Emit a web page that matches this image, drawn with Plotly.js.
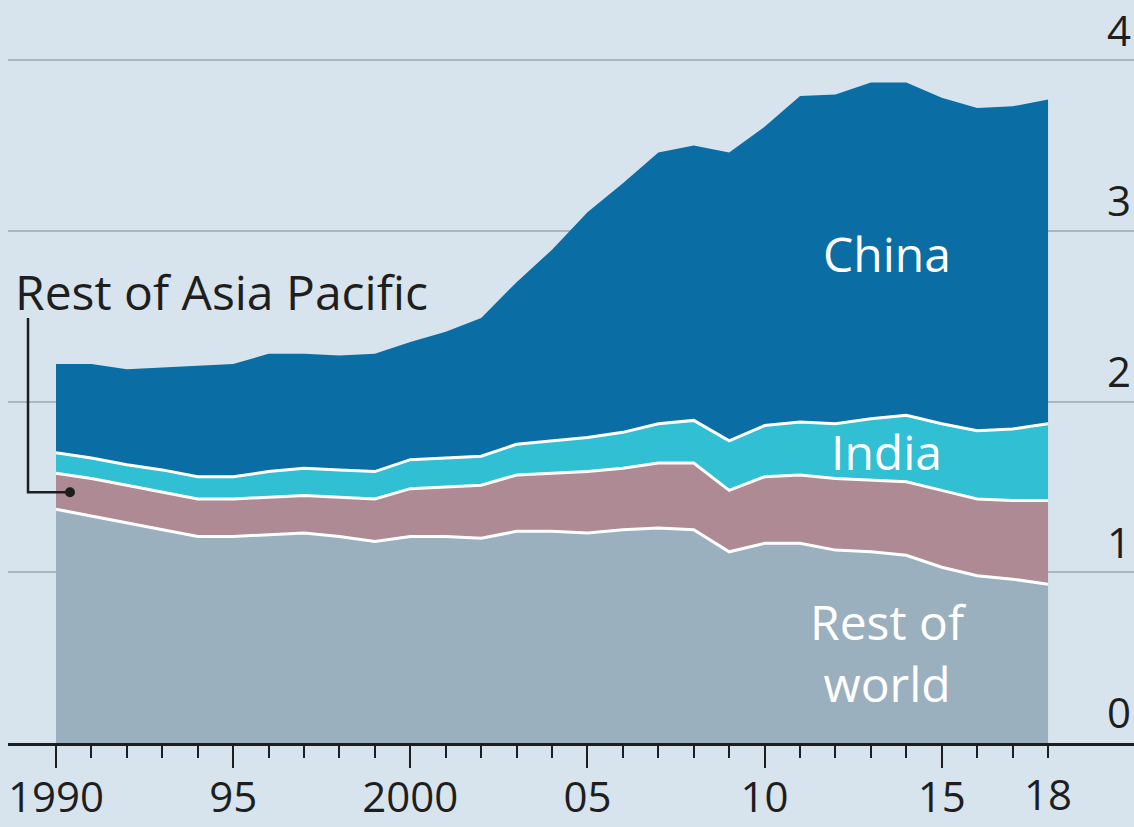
<!DOCTYPE html>
<html>
<head>
<meta charset="utf-8">
<script src="https://cdn.plot.ly/plotly-3.0.1.min.js"></script>
<style>
  html, body { margin: 0; padding: 0; background: #d7e4ed; }
  #chart { width: 1134px; height: 827px; }
</style>
</head>
<body>
<div id="chart"></div>
<script>
// Years
const years = [1990,1991,1992,1993,1994,1995,1996,1997,1998,1999,2000,2001,2002,2003,2004,
               2005,2006,2007,2008,2009,2010,2011,2012,2013,2014,2015,2016,2017,2018];

// Series values (stacked, bottom to top)
const restOfWorld = [1.37,1.33,1.29,1.25,1.21,1.21,1.22,1.23,1.21,1.18,1.21,1.21,1.20,1.24,1.24,
                     1.23,1.25,1.26,1.25,1.12,1.17,1.17,1.13,1.12,1.10,1.03,0.98,0.96,0.93];
const restOfAsiaPacific = [0.21,0.22,0.22,0.22,0.22,0.22,0.22,0.22,0.23,0.25,0.28,0.29,0.31,0.33,0.34,
                           0.36,0.36,0.38,0.39,0.36,0.39,0.40,0.42,0.42,0.43,0.45,0.45,0.46,0.49];
const india = [0.12,0.12,0.12,0.13,0.13,0.13,0.15,0.16,0.16,0.16,0.17,0.17,0.17,0.18,0.19,
               0.20,0.21,0.23,0.25,0.29,0.30,0.31,0.32,0.36,0.39,0.39,0.40,0.42,0.45];
const china = [0.52,0.55,0.56,0.60,0.65,0.66,0.69,0.67,0.67,0.69,0.69,0.74,0.81,0.95,1.12,
               1.32,1.46,1.59,1.61,1.69,1.75,1.91,1.93,1.97,1.95,1.91,1.89,1.89,1.90];

// Tick labels
const majorTickVals = [1990,1995,2000,2005,2010,2015];
const majorTickText = ['1990','95','2000','05','10','15'];
const minorTickVals = [1991,1992,1993,1994,1996,1997,1998,1999,2001,2002,2003,2004,
                       2006,2007,2008,2009,2011,2012,2013,2014,2016,2017,2018];
const endTickVals = [2018];
const endTickText = ['18'];
const yTickVals = [0,1,2,3,4];

const FONT = 'Open Sans, Lato, DejaVu Sans, sans-serif';
const BG = '#d7e4ed';
const INK = '#1e1e1e';

function band(name, values, fillColor, lineColor, lineWidth) {
  return {
    type: 'scatter', mode: 'lines', name: name,
    x: years, y: values, stackgroup: 'one',
    fillcolor: fillColor,
    line: { color: lineColor, width: lineWidth, shape: 'linear' },
    hoverinfo: 'skip'
  };
}

const traces = [
  band('Rest of world', restOfWorld, '#9bb0be', '#ffffff', 3),
  band('Rest of Asia Pacific', restOfAsiaPacific, '#ae8a94', '#ffffff', 3),
  band('India', india, '#30bfd3', '#ffffff', 3),
  band('China', china, '#0a6ea4', '#0a6ea4', 0),
  { type: 'scatter', x: [years[0]], y: [0], xaxis: 'x2', yaxis: 'y',
    mode: 'markers', marker: { opacity: 0 }, showlegend: false, hoverinfo: 'skip' }
];

const xr = [1988.645, 2020.426];
const tickFont = { family: FONT, size: 42, color: INK };

const layout = {
  width: 1134, height: 827,
  margin: { l: 8, r: 0, t: 0, b: 84 },
  paper_bgcolor: BG, plot_bgcolor: BG,
  showlegend: false,
  font: { family: FONT, color: INK },
  xaxis: {
    range: xr, fixedrange: true,
    tickmode: 'array', tickvals: majorTickVals, ticktext: majorTickText,
    ticks: 'outside', ticklen: 22, tickwidth: 2, tickcolor: INK,
    ticklabelstandoff: -6,
    minor: { tickmode: 'array', tickvals: minorTickVals, ticks: 'outside', ticklen: 12,
             tickwidth: 2, tickcolor: INK, showgrid: false },
    tickfont: tickFont,
    showgrid: false, zeroline: false,
    showline: true, linecolor: INK, linewidth: 3
  },
  xaxis2: {
    overlaying: 'x', matches: 'x', anchor: 'y', side: 'bottom',
    tickmode: 'array', tickvals: endTickVals, ticktext: endTickText,
    ticks: 'outside', ticklen: 22, tickwidth: 2, tickcolor: 'rgba(0,0,0,0)',
    ticklabelstandoff: -6,
    tickfont: tickFont,
    showgrid: false, zeroline: false, showline: false
  },
  yaxis: {
    range: [0, 4.353], fixedrange: true,
    side: 'right',
    tickmode: 'array', tickvals: yTickVals,
    ticklabelposition: 'inside top',
    tickfont: { family: FONT, size: 42, color: INK },
    ticks: '',
    showgrid: true, gridcolor: '#a9b7c1', gridwidth: 2,
    zeroline: false, showline: false
  },
  shapes: [
    { type: 'path', xref: 'x', yref: 'y',
      path: 'M 1989.21,2.49 L 1989.21,1.469 L 1990.395,1.469',
      line: { color: INK, width: 2.5 }, layer: 'above' },
    { type: 'circle', xref: 'x', yref: 'y', layer: 'above',
      xsizemode: 'pixel', ysizemode: 'pixel', xanchor: 1990.395, yanchor: 1.469,
      x0: -5, x1: 5, y0: -5, y1: 5,
      fillcolor: INK, line: { color: INK, width: 0 } }
  ],
  annotations: [
    { xref: 'x', yref: 'y', x: 1988.80, y: 2.644, xanchor: 'left', yanchor: 'middle',
      text: 'Rest of Asia Pacific', showarrow: false,
      font: { family: FONT, size: 48, color: INK } },
    { xref: 'x', yref: 'y', x: 2013.45, y: 2.87, xanchor: 'center', yanchor: 'middle',
      text: 'China', showarrow: false,
      font: { family: FONT, size: 48, color: '#ffffff' } },
    { xref: 'x', yref: 'y', x: 2013.45, y: 1.71, xanchor: 'center', yanchor: 'middle',
      text: 'India', showarrow: false,
      font: { family: FONT, size: 48, color: '#ffffff' } },
    { xref: 'x', yref: 'y', x: 2013.5, y: 0.53, xanchor: 'center', yanchor: 'middle',
      text: 'Rest of<br>world', showarrow: false,
      font: { family: FONT, size: 48, color: '#ffffff' } }
  ]
};

Plotly.newPlot('chart', traces, layout, { staticPlot: true, displayModeBar: false });
</script>
</body>
</html>
